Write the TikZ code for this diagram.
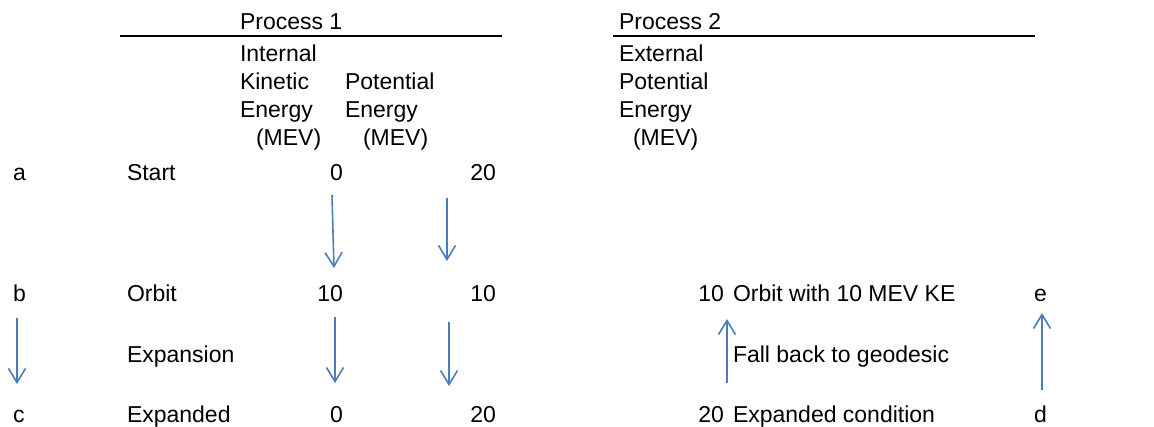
\documentclass[tikz,border=0pt]{standalone}
\usepackage{fontspec}
\setmainfont{Liberation Sans}
\usetikzlibrary{arrows.meta}
\definecolor{arrowblue}{HTML}{4A7EBB}
\begin{document}
\begin{tikzpicture}[x=1pt,y=-1pt,
  lbl/.style={inner sep=0pt, outer sep=0pt, font=\fontsize{23}{28}\selectfont},
  lw/.style={lbl, anchor=base west},
  le/.style={lbl, anchor=base east},
  flow/.style={draw=arrowblue, line width=1.6pt, -{Straight Barb[length=14pt,width=17pt]}},
  rulestyle/.style={draw=black, line width=2pt}]
\useasboundingbox (0,0) rectangle (1154,426);
% headings
\node[lw] (p1) at (240,29) {Process 1};
\node[lw] (p2) at (619,29) {Process 2};
\coordinate (r1a) at (120,35.5);
\coordinate (r1b) at (502,35.5);
\coordinate (r2a) at (613,35.5);
\coordinate (r2b) at (1035,35.5);
\draw[rulestyle] (r1a) -- (r1b);
\draw[rulestyle] (r2a) -- (r2b);
% column heads
\node[lw] (h11) at (240,61) {Internal};
\node[lw] (h12) at (240,89) {Kinetic};
\node[lw] (h13) at (240,117) {Energy};
\node[lw] (h14) at (256,145) {(MEV)};
\node[lw] (h22) at (345,89) {Potential};
\node[lw] (h23) at (345,117) {Energy};
\node[lw] (h24) at (363,145) {(MEV)};
\node[lw] (h31) at (619,61) {External};
\node[lw] (h32) at (619,89) {Potential};
\node[lw] (h33) at (619,117) {Energy};
\node[lw] (h34) at (633,145) {(MEV)};
% row a
\node[lw] (la) at (13,180) {a};
\node[lw] (start) at (127,180) {Start};
\node[le] (a1) at (343,180) {0};
\node[le] (a2) at (496,180) {20};
% row b
\node[lw] (lb) at (13,301) {b};
\node[lw] (orbit) at (127,301) {Orbit};
\node[le] (b1) at (343,301) {10};
\node[le] (b2) at (496,301) {10};
\node[le] (b3) at (724,301) {10};
\node[lw] (orbitke) at (733,301) {Orbit with 10 MEV KE};
\node[lw] (le) at (1034,301) {e};
% middle row
\node[lw] (expansion) at (127,362) {Expansion};
\node[lw] (fall) at (733,362) {Fall back to geodesic};
% row c
\node[lw] (lc) at (13,422) {c};
\node[lw] (expanded) at (127,422) {Expanded};
\node[le] (c1) at (343,422) {0};
\node[le] (c2) at (496,422) {20};
\node[le] (c3) at (724,422) {20};
\node[lw] (expcond) at (733,422) {Expanded condition};
\node[lw] (ld) at (1034,422) {d};
% arrow end points
\coordinate (k1s) at (332,195);
\coordinate (k1e) at (334,268);
\coordinate (q1s) at (447,198);
\coordinate (q1e) at (447,261);
\coordinate (k2s) at (335,317);
\coordinate (k2e) at (335,383);
\coordinate (q2s) at (449,322);
\coordinate (q2e) at (449,386);
\coordinate (bcs) at (17,318);
\coordinate (bce) at (17,384);
\coordinate (gs) at (727,383);
\coordinate (ge) at (727,319);
\coordinate (des) at (1042,390);
\coordinate (dee) at (1042,313);
% arrows
\draw[flow] (k1s) -- (k1e);
\draw[flow] (q1s) -- (q1e);
\draw[flow] (k2s) -- (k2e);
\draw[flow] (q2s) -- (q2e);
\draw[flow] (bcs) -- (bce);
\draw[flow] (gs) -- (ge);
\draw[flow] (des) -- (dee);
\end{tikzpicture}
\end{document}
